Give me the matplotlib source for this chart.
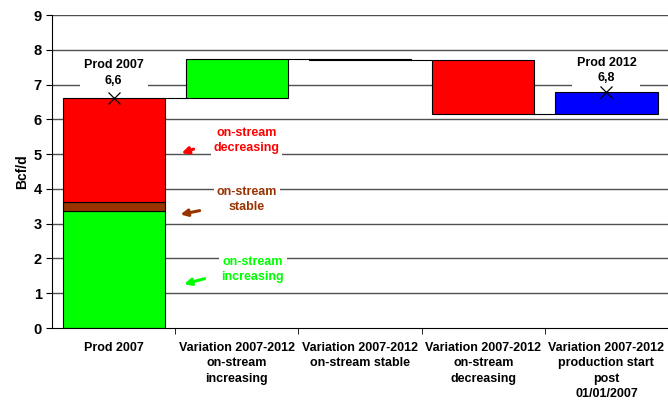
import matplotlib.pyplot as plt
import numpy as np

# categories and values (Bcf/d)
categories = ['Prod 2007',
              'Variation 2007-2012\non-stream\nincreasing',
              'Variation 2007-2012\non-stream stable',
              'Variation 2007-2012\non-stream\ndecreasing',
              'Variation 2007-2012\nproduction start\npost\n01/01/2007']
prod2007_parts = [3.37, 0.25, 2.98]   # increasing, stable, decreasing
prod2007_colors = ['#00ff00', '#993300', '#ff0000']
variations = [1.13, -0.01, -1.57, 0.63]
variation_colors = ['#00ff00', '#000000', '#ff0000', '#0000ff']
prod2007_label = 'Prod 2007\n6,6'
prod2012_label = 'Prod 2012\n6,8'

part_labels = ['on-stream\nincreasing', 'on-stream\nstable', 'on-stream\ndecreasing']
part_label_pos = [(1.13, 1.68), (1.08, 3.7), (1.08, 5.4)]
part_arrow_from = [(0.76, 1.44), (0.72, 3.39), (0.67, 5.17)]
part_arrow_to = [(0.55, 1.24), (0.52, 3.25), (0.53, 5.0)]

plt.rcParams['font.family'] = ['Liberation Sans', 'DejaVu Sans']
plt.rcParams['font.weight'] = 'bold'

fig = plt.figure(figsize=(6.68, 4.0), dpi=100)
ax = fig.add_axes([0.078, 0.18, 0.922, 0.7825])

width = 0.83
for y in range(1, 10):
    ax.axhline(y, color='#505050', lw=1.0, zorder=0)

# stacked first bar
bottom = 0
for h, c in zip(prod2007_parts, prod2007_colors):
    ax.bar(0, h, width, bottom=bottom, color=c, edgecolor='black', lw=0.8, zorder=2)
    bottom += h
prod2007 = bottom

# waterfall bars
total = prod2007
tops = [prod2007]
for i, (v, c) in enumerate(zip(variations, variation_colors)):
    ax.bar(i + 1, v, width, bottom=total, color=c, edgecolor='black', lw=0.8, zorder=2)
    total += v
    tops.append(total)

# connectors
for i in range(len(tops) - 1):
    ax.plot([i + width / 2, i + 1 - width / 2], [tops[i], tops[i]], color='black', lw=0.8, zorder=1)

ax.plot([0, 4], [prod2007, total], 'x', color='black', ms=9, mew=0.9, zorder=4)
ax.text(0, 7.34, prod2007_label, ha='center', va='center', fontsize=9, fontweight='bold',
        linespacing=1.4, bbox=dict(facecolor='white', edgecolor='none', pad=3), zorder=3)
ax.text(4, 7.4, prod2012_label, ha='center', va='center', fontsize=9, fontweight='bold',
        linespacing=1.4, bbox=dict(facecolor='white', edgecolor='none', pad=3), zorder=3)

for lab, pos, p0, p1, c in zip(part_labels, part_label_pos, part_arrow_from, part_arrow_to,
                               prod2007_colors):
    ax.text(pos[0], pos[1], lab, ha='center', va='center', color=c, fontsize=9,
            fontweight='bold', linespacing=1.3,
            bbox=dict(facecolor='white', edgecolor='none', pad=2), zorder=3)
    ax.annotate('', xy=p1, xytext=p0,
                arrowprops=dict(arrowstyle='-|>', color=c, lw=2.2, mutation_scale=10), zorder=3)

ax.set_xlim(-0.5, 4.5)
ax.set_ylim(0, 9)
ax.set_yticks(range(10))
ax.set_xticks(range(5))
ax.set_xticklabels(categories, fontsize=9, fontweight='bold', linespacing=1.38)
ax.set_xticks(np.arange(0.5, 4.5, 1), minor=True)
ax.tick_params(axis='x', which='major', length=0, pad=10)
ax.tick_params(axis='x', which='minor', length=4, direction='out')
ax.tick_params(axis='y', labelsize=10.5, length=4, direction='out')
for t in ax.get_yticklabels():
    t.set_fontweight('bold')
ax.set_ylabel('Bcf/d', fontsize=10, fontweight='bold', labelpad=3)

ax.spines['top'].set_visible(False)
ax.spines['right'].set_visible(False)

fig.savefig('out.png', dpi=100)
